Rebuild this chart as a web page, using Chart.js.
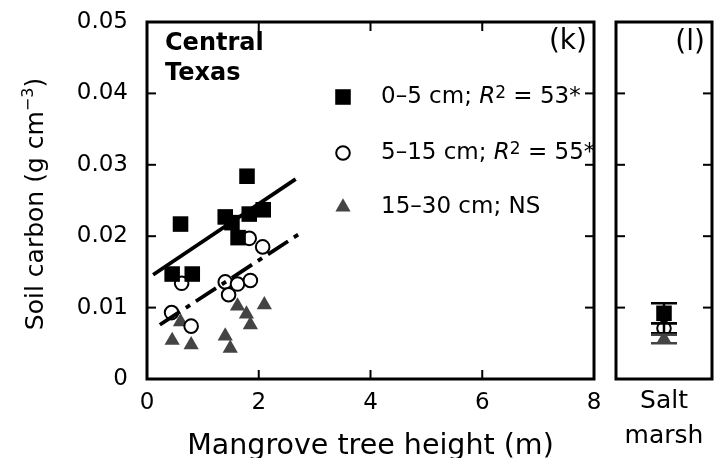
<!DOCTYPE html>
<html lang="en">
<head>
<meta charset="UTF-8" />
<title>Soil carbon and mangrove tree height</title>
<script src="https://cdn.jsdelivr.net/npm/chart.js@4"></script>
<style>
  body { margin: 0; background: #fff; }
  #wrap { position: relative; width: 723px; height: 458px; }
  #mainBox { position: absolute; left: 0; top: 0; width: 605px; height: 458px; }
  #marshBox { position: absolute; left: 605px; top: 0; width: 118px; height: 458px; }
</style>
</head>
<body>
<div id="wrap">
  <div id="mainBox"><canvas id="mainChart"></canvas></div>
  <div id="marshBox"><canvas id="marshChart"></canvas></div>
</div>
<script>
// mangrove plots: tree height (m) against soil carbon (g cm-3), by depth
const height0to5 = [0.45, 0.60, 0.81, 1.40, 1.52, 1.63, 1.79, 1.83, 2.08];
const carbon0to5 = [0.0147, 0.0217, 0.0147, 0.0227, 0.0219, 0.0198, 0.0284, 0.0231, 0.0237];

const height5to15 = [0.44, 0.62, 0.79, 1.40, 1.46, 1.62, 1.85, 1.83, 2.07];
const carbon5to15 = [0.0093, 0.0134, 0.0074, 0.0136, 0.0118, 0.0133, 0.0138, 0.0197, 0.0185];

const height15to30 = [0.45, 0.60, 0.79, 1.40, 1.49, 1.62, 1.78, 1.85, 2.10];
const carbon15to30 = [0.0054, 0.0080, 0.0048, 0.0060, 0.0043, 0.0102, 0.0091, 0.0076, 0.0104];

// fitted lines (end points)
const fit0to5X = [0.11, 2.66];
const fit0to5Y = [0.0146, 0.0280];
const fit5to15X = [0.23, 2.80];
const fit5to15Y = [0.0076, 0.0207];

// salt marsh means and errors, same depth order
const marshLabel = ['Salt', 'marsh'];
const marshMean = [0.0092, 0.0071, 0.0056];
const marshErr = [0.0014, 0.0007, 0.0006];

const legendLabels = [
  ['0–5 cm; ', 'R', '2', ' = 53*'],
  ['5–15 cm; ', 'R', '2', ' = 55*'],
  ['15–30 cm; NS']
];

const FONT = '"DejaVu Sans", sans-serif';
const GREY = '#444';

const toPoints = (xs, ys) => xs.map((x, i) => ({ x, y: ys[i] }));

const markers = [
  { pointStyle: 'rect', radius: 11, fill: '#000', stroke: '#000', border: 0 },
  { pointStyle: 'circle', radius: 6.8, fill: '#fff', stroke: '#000', border: 2 },
  { pointStyle: 'triangle', radius: 8.8, fill: GREY, stroke: GREY, border: 0 }
];

const pointOpts = m => ({
  pointStyle: m.pointStyle,
  pointRadius: m.radius,
  pointHoverRadius: m.radius,
  pointBackgroundColor: m.fill,
  pointBorderColor: m.stroke,
  pointBorderWidth: m.border,
  showLine: false
});

// box with inward tick marks on every side
const frame = {
  id: 'frame',
  afterDraw(chart, args, opts) {
    const { ctx, chartArea: a } = chart;
    const len = 9;
    const seg = (x1, y1, x2, y2) => { ctx.beginPath(); ctx.moveTo(x1, y1); ctx.lineTo(x2, y2); ctx.stroke(); };
    ctx.save();
    ctx.strokeStyle = '#000';
    ctx.lineWidth = 2;
    const ys = chart.scales.y;
    ys.ticks.forEach(t => {
      if (t.value <= ys.min || t.value >= ys.max) return;
      const p = ys.getPixelForValue(t.value);
      seg(a.left, p, a.left + len, p);
      seg(a.right - len, p, a.right, p);
    });
    if (opts.xTicks) {
      const xs = chart.scales.x;
      xs.ticks.forEach(t => {
        if (t.value <= xs.min || t.value >= xs.max) return;
        const p = xs.getPixelForValue(t.value);
        seg(p, a.bottom, p, a.bottom - len);
        seg(p, a.top, p, a.top + len);
      });
    }
    ctx.lineWidth = 3;
    ctx.strokeRect(a.left, a.top, a.right - a.left, a.bottom - a.top);
    ctx.restore();
  }
};

function drawRuns(ctx, x, y, runs) {
  runs.forEach(([text, font, dy]) => {
    ctx.font = font;
    ctx.fillText(text, x, y + dy);
    x += ctx.measureText(text).width;
  });
}

function runsWidth(ctx, runs) {
  return runs.reduce((w, [text, font]) => { ctx.font = font; return w + ctx.measureText(text).width; }, 0);
}

// y title, panel text and key
const annotations = {
  id: 'annotations',
  afterDraw(chart) {
    const ctx = chart.ctx;
    ctx.save();
    ctx.fillStyle = '#000';

    const big = '25px ' + FONT;
    const sup = '16px ' + FONT;
    const title = [['Soil carbon (g cm', big, 0], ['−3', sup, -10], [')', big, 0]];
    ctx.save();
    ctx.translate(43, 204);
    ctx.rotate(-Math.PI / 2);
    ctx.textBaseline = 'alphabetic';
    ctx.textAlign = 'left';
    drawRuns(ctx, -runsWidth(ctx, title) / 2, 0, title);
    ctx.restore();

    ctx.textBaseline = 'middle';
    ctx.textAlign = 'left';
    ctx.font = 'bold 24px ' + FONT;
    ctx.fillText('Central', 165, 44);
    ctx.fillText('Texas', 165, 74);

    ctx.textAlign = 'right';
    ctx.font = '28px ' + FONT;
    ctx.fillText('(k)', 587, 42);

    ctx.textAlign = 'left';
    const rowY = [97, 153, 207];
    legendLabels.forEach((parts, i) => {
      const m = markers[i];
      ctx.fillStyle = m.fill;
      ctx.strokeStyle = m.stroke;
      ctx.lineWidth = m.border;
      Chart.helpers.drawPoint(ctx, { pointStyle: m.pointStyle, radius: m.radius, rotation: 0, borderWidth: m.border }, 343, rowY[i]);
      ctx.fillStyle = '#000';
      const norm = '23px ' + FONT;
      const runs = parts.length > 1
        ? [[parts[0], norm, 0], [parts[1], 'italic 23px ' + FONT, 0], [parts[2], '17px ' + FONT, -3], [parts[3], norm, 0]]
        : [[parts[0], norm, 0]];
      drawRuns(ctx, 381, rowY[i], runs);
    });
    ctx.restore();
  }
};

new Chart(document.getElementById('mainChart'), {
  type: 'scatter',
  data: {
    datasets: [
      {
        data: toPoints(fit0to5X, fit0to5Y),
        showLine: true, borderColor: '#000', borderWidth: 3.8,
        pointRadius: 0, pointHoverRadius: 0
      },
      {
        data: toPoints(fit5to15X, fit5to15Y),
        showLine: true, borderColor: '#000', borderWidth: 3.8, borderDash: [24, 7, 5, 7],
        pointRadius: 0, pointHoverRadius: 0
      },
      { data: toPoints(height0to5, carbon0to5), ...pointOpts(markers[0]) },
      { data: toPoints(height5to15, carbon5to15), ...pointOpts(markers[1]) },
      { data: toPoints(height15to30, carbon15to30), ...pointOpts(markers[2]) }
    ]
  },
  options: {
    responsive: true,
    maintainAspectRatio: false,
    animation: false,
    layout: { padding: { left: 0, top: 22, right: 8, bottom: 0 } },
    plugins: { legend: { display: false }, tooltip: { enabled: false }, frame: { xTicks: true } },
    scales: {
      x: {
        type: 'linear', min: 0, max: 8,
        grid: { display: false }, border: { display: false },
        ticks: { stepSize: 2, color: '#000', padding: 2, font: { family: FONT, size: 23 } },
        title: { display: true, text: 'Mangrove tree height (m)', color: '#000', padding: 0, font: { family: FONT, size: 28.5, lineHeight: 0.8 } },
        afterFit: s => { s.height = 79; s.paddingLeft = 0; s.paddingRight = 0; }
      },
      y: {
        min: 0, max: 0.05,
        grid: { display: false }, border: { display: false },
        ticks: {
          stepSize: 0.01, color: '#000', padding: 11, font: { family: FONT, size: 23 },
          callback: v => (v === 0 ? '0' : v.toFixed(2))
        },
        afterFit: s => { s.width = 147; s.paddingTop = 0; s.paddingBottom = 0; }
      }
    }
  },
  plugins: [frame, annotations]
});

// salt marsh error bars
const errorBars = {
  id: 'errorBars',
  afterDatasetsDraw(chart) {
    const { ctx } = chart;
    const xs = chart.scales.x, ys = chart.scales.y;
    const x = xs.getPixelForValue(0);
    const cap = 13;
    ctx.save();
    ctx.lineWidth = 2.5;
    marshMean.forEach((m, i) => {
      ctx.strokeStyle = markers[i].pointStyle === 'triangle' ? GREY : '#000';
      const top = ys.getPixelForValue(m + marshErr[i]);
      const bot = ys.getPixelForValue(m - marshErr[i]);
      ctx.beginPath();
      ctx.moveTo(x, top); ctx.lineTo(x, bot);
      ctx.moveTo(x - cap, top); ctx.lineTo(x + cap, top);
      ctx.moveTo(x - cap, bot); ctx.lineTo(x + cap, bot);
      ctx.stroke();
    });
    ctx.fillStyle = '#000';
    ctx.textAlign = 'right';
    ctx.textBaseline = 'middle';
    ctx.font = '28px ' + FONT;
    ctx.fillText('(l)', 100, 43);
    ctx.restore();
  }
};

new Chart(document.getElementById('marshChart'), {
  type: 'scatter',
  data: {
    labels: [marshLabel],
    datasets: marshMean.map((m, i) => ({ data: [{ x: 0, y: m }], ...pointOpts(markers[i]) }))
  },
  options: {
    responsive: true,
    maintainAspectRatio: false,
    animation: false,
    layout: { padding: { left: 0, top: 22, right: 7, bottom: 0 } },
    plugins: { legend: { display: false }, tooltip: { enabled: false }, frame: { xTicks: false } },
    scales: {
      x: {
        type: 'category', offset: true,
        grid: { display: false }, border: { display: false },
        ticks: { color: '#000', padding: -3, font: { family: FONT, size: 25, lineHeight: '35px' } },
        afterFit: s => { s.height = 79; s.paddingLeft = 0; s.paddingRight = 0; }
      },
      y: {
        min: 0, max: 0.05,
        grid: { display: false }, border: { display: false },
        ticks: { stepSize: 0.01, display: false },
        afterFit: s => { s.width = 7; s.paddingTop = 0; s.paddingBottom = 0; }
      }
    }
  },
  plugins: [frame, errorBars]
});
</script>
</body>
</html>
